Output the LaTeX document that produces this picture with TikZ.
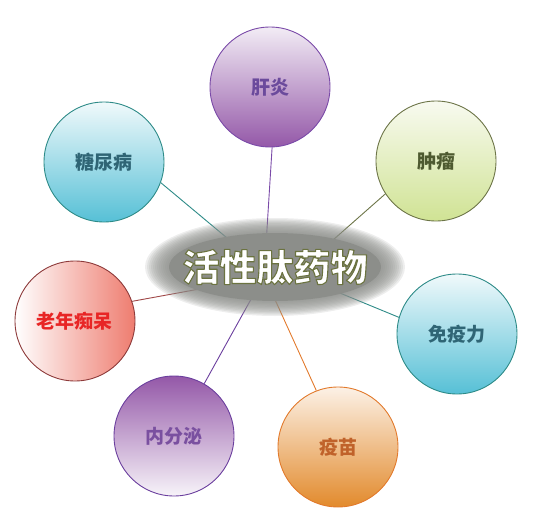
\documentclass[tikz,border=0pt]{standalone}
\usepackage{fontspec}
\setmainfont{Noto Sans CJK SC}
\usepackage{xcolor}
\usepackage{tikz}
\usetikzlibrary{shapes.geometric,backgrounds}
\definecolor{hubgrey}{HTML}{8C8E8A}
\definecolor{gzline}{HTML}{7A4AA8}
\definecolor{gztop}{HTML}{F2ECF5}
\definecolor{gzbot}{HTML}{9458A8}
\definecolor{gztext}{HTML}{6B4A9C}
\definecolor{zlline}{HTML}{6D7548}
\definecolor{zltop}{HTML}{F8FAF0}
\definecolor{zlbot}{HTML}{D0E394}
\definecolor{zltext}{HTML}{4E5A30}
\definecolor{tealline}{HTML}{2E8B88}
\definecolor{tealtop}{HTML}{F0F9FB}
\definecolor{tealbot}{HTML}{56C0D6}
\definecolor{tealtext}{HTML}{2F6575}
\definecolor{ymline}{HTML}{E27A2C}
\definecolor{ymtop}{HTML}{FCF1E6}
\definecolor{ymbot}{HTML}{E28A2C}
\definecolor{ymtext}{HTML}{C0622A}
\definecolor{nfline}{HTML}{6B3F9E}
\definecolor{nftext}{HTML}{7A50A0}
\definecolor{lnline}{HTML}{A04848}
\definecolor{lnedge}{HTML}{8E3B3B}
\definecolor{lnright}{HTML}{EE7C6F}
\definecolor{lntext}{HTML}{E82525}
% white letters with an olive rim (fill + stroke)
\newcommand{\rimtext}[1]{\special{pdf:literal direct 0.42 0.45 0.25 RG 1.1 w 1 j 2 Tr}#1\special{pdf:literal direct 0 Tr}}
\tikzset{
  bub/.style={circle, minimum size=120pt, inner sep=0pt, line width=0.9pt,
    font=\bfseries\fontsize{19}{21}\selectfont},
  link/.style={line width=0.9pt},
  haze/.style={fill=hubgrey, opacity=0.15},
  hub/.style={ellipse, minimum width=230pt, minimum height=80pt, inner sep=0pt,
    text=white, font=\bfseries\fontsize{37}{40}\selectfont}
}
\begin{document}
\begin{tikzpicture}[x=1pt,y=1pt]
  \useasboundingbox (0,0) rectangle (550,-522);

  % centre
  \node[hub] (hub) at (275,-267) {\rimtext{活性肽药物}};

  % bubbles
  \node[bub, draw=gzline, top color=gztop, bottom color=gzbot, text=gztext] (ganyan) at (270,-87) {肝炎};
  \node[bub, draw=zlline, top color=zltop, bottom color=zlbot, text=zltext] (zhongliu) at (436,-161) {肿瘤};
  \node[bub, draw=tealline, top color=tealtop, bottom color=tealbot, text=tealtext] (mianyi) at (457,-334) {免疫力};
  \node[bub, draw=ymline, top color=ymtop, bottom color=ymbot, text=ymtext] (yimiao) at (338,-447) {疫苗};
  \node[bub, draw=nfline, top color=gzbot, bottom color=gztop!60, text=nftext] (neifenmi) at (174,-436) {内分泌};
  \node[bub, draw=lnedge, left color=white, right color=lnright, text=lntext] (laonian) at (75,-321) {老年痴呆};
  \node[bub, draw=tealline, top color=tealtop, bottom color=tealbot, text=tealtext] (tangniao) at (104,-162) {糖尿病};

  % free ends under the centre
  \coordinate (t-ganyan) at (266,-245);
  \coordinate (t-zhongliu) at (308,-262);
  \coordinate (t-mianyi) at (335,-291);
  \coordinate (t-yimiao) at (272,-293);
  \coordinate (t-neifenmi) at (255,-292);
  \coordinate (t-laonian) at (205,-288);
  \coordinate (t-tangniao) at (245,-253);

  \begin{scope}[on background layer]
    \draw[link, gzline] (ganyan.-88) -- (t-ganyan);
    \draw[link, zlline] (zhongliu.-147) -- (t-zhongliu);
    \draw[link, tealline] (mianyi.164) -- (t-mianyi);
    \draw[link, ymline] (yimiao.111) -- (t-yimiao);
    \draw[link, nfline] (neifenmi.60) -- (t-neifenmi);
    \draw[link, lnline] (laonian.19) -- (t-laonian);
    \draw[link, tealline] (tangniao.-20) -- (t-tangniao);
    % soft grey cloud
    \foreach \k in {0,...,11}
      \fill[haze] (hub.center) ellipse [x radius=130-2*\k, y radius=49-1.3*\k];
    \fill[hubgrey] (hub.center) ellipse [x radius=106, y radius=34];
  \end{scope}
\end{tikzpicture}
\end{document}
